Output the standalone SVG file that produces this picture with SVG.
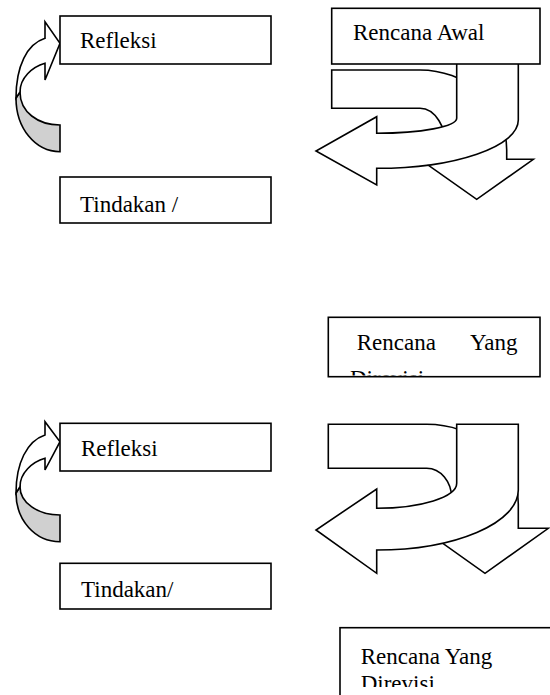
<svg xmlns="http://www.w3.org/2000/svg" width="550" height="695" viewBox="0 0 550 695">
<style>
.box{fill:#fff;stroke:#000;stroke-width:1.6}
.arr{fill:#fff;stroke:#000;stroke-width:1.6;stroke-linejoin:miter}
.back{fill:#d0d0d0;stroke:#000;stroke-width:1.6}
.t{font-family:"Liberation Serif","Times New Roman",serif;font-size:23px;fill:#000}
</style>
<defs>
<clipPath id="c1"><rect x="329" y="318" width="210" height="57.5"/></clipPath>
<clipPath id="c2"><rect x="341" y="628" width="209" height="59"/></clipPath>
</defs>
<g id="connectors">
<path class="back" d="M60,151.7 C35,151.7 16,128 16,98 L20,92 C20,112 38,125 60,125 Z"/>
<path class="arr" d="M16,98 C16,66 27,44 45,38.3 L45,21.7 L60,43.3 L45,80 L45,63.3 C32,67 20,78 20,92 Z"/>
<path class="arr" d="M331.7,70 L420,70 A86.7,80 0 0 1 506.7,150 L506.7,159.3 L533.3,159.3 L476.7,199.3 L420,159.3 L446.7,159.3 L446.7,150 A26.7,41.7 0 0 0 420,108.3 L331.7,108.3 Z"/>
<path class="arr" d="M456.7,63.3 L518.3,63.3 L518.3,120 A141.6,48.3 0 0 1 376.7,168.3 L376.7,185 L316,151 L376.7,116.7 L376.7,133.3 A80,15 0 0 0 456.7,118.3 Z"/>
<path class="back" d="M60,541.7 C35,541.7 16,520 16,493 L20,486.7 C20,503 38,515 60,515 Z"/>
<path class="arr" d="M16,493 C16,463 27,441 45,435 L45,421.7 L60,441.7 L45,470 L45,458.3 C32,462 20,473 20,486.7 Z"/>
<path class="arr" d="M328.3,424.3 L426.7,424.3 A91.6,80 0 0 1 518.3,504 L518.3,528.3 L548.3,528.3 L485,573.3 L421.7,528.3 L451.7,528.3 L451.7,498.3 A25,30 0 0 0 426.7,468.3 L328.3,468.3 Z"/>
<path class="arr" d="M456.7,424.3 L518.3,424.3 L518.3,490 A141.6,60 0 0 1 376.7,550 L376.7,573.3 L316,530 L376.7,489 L376.7,508.3 A80,25 0 0 0 456.7,483.3 Z"/>
</g>
<g id="refleksi1"><rect class="box" x="60" y="16" width="211" height="48"/><text class="t" x="80" y="48">Refleksi</text></g>
<g id="tindakan1"><rect class="box" x="60" y="177" width="211" height="46"/><text class="t" x="80" y="212">Tindakan /</text></g>
<g id="rencana-awal"><rect class="box" x="331.7" y="8.3" width="208.3" height="55.7"/><text class="t" x="353" y="39.5">Rencana Awal</text></g>
<g id="rencana-yang1"><rect class="box" x="328.3" y="317.3" width="211.7" height="59.4"/>
<g clip-path="url(#c1)"><text class="t" x="356.7" y="350">Rencana</text><text class="t" x="470" y="350">Yang</text><text class="t" x="350" y="386">Direvisi</text></g></g>
<g id="refleksi2"><rect class="box" x="60" y="423.3" width="211" height="47.7"/><text class="t" x="81" y="456">Refleksi</text></g>
<g id="tindakan2"><rect class="box" x="60" y="563.3" width="211" height="45.7"/><text class="t" x="81" y="597">Tindakan/</text></g>
<g id="rencana-yang2"><rect class="box" x="340" y="627.7" width="230" height="100"/>
<g clip-path="url(#c2)"><text class="t" x="360.7" y="664">Rencana Yang</text><text class="t" x="360.7" y="691">Direvisi</text></g></g>
</svg>
